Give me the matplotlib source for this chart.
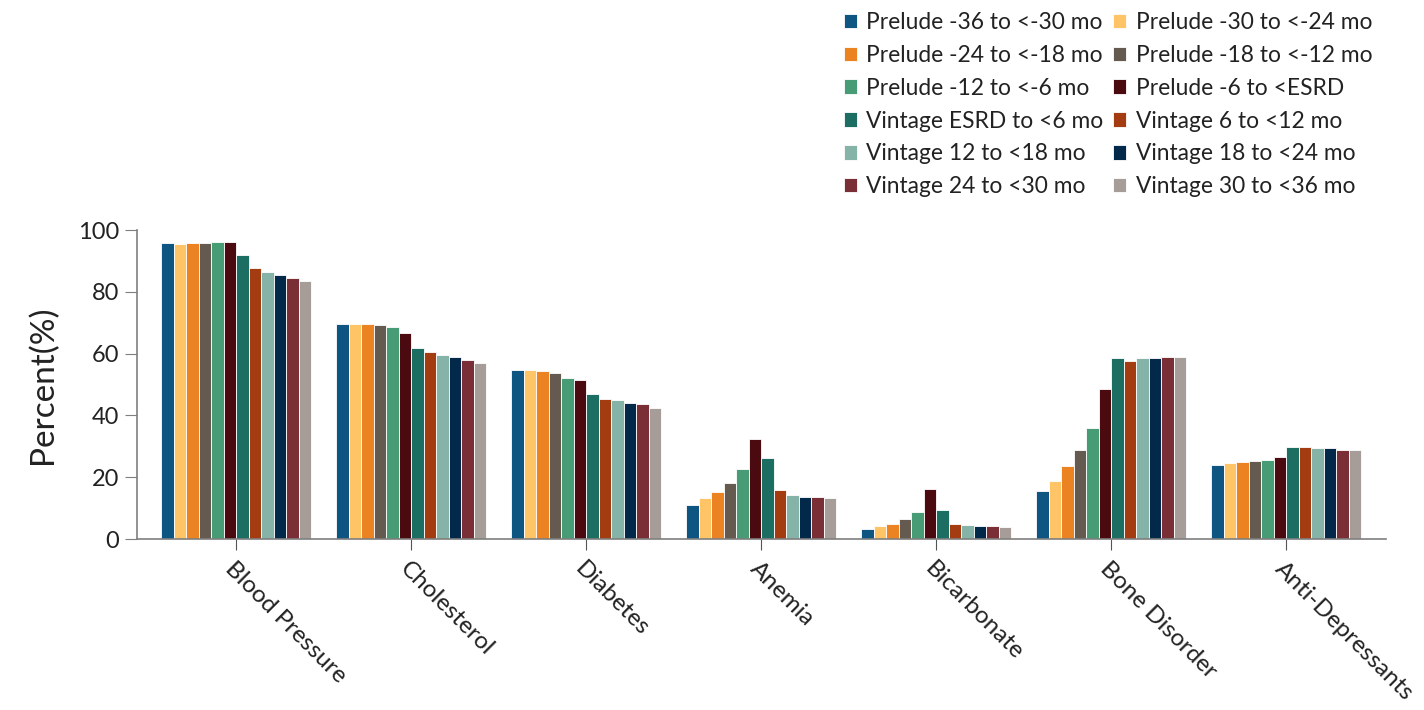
import matplotlib.pyplot as plt
import numpy as np

plt.rcParams['font.family'] = ['Lato', 'DejaVu Sans']

categories = ['Blood Pressure', 'Cholesterol', 'Diabetes', 'Anemia',
              'Bicarbonate', 'Bone Disorder', 'Anti-Depressants']

series_names = ['Prelude -36 to <-30 mo', 'Prelude -30 to <-24 mo',
                'Prelude -24 to <-18 mo', 'Prelude -18 to <-12 mo',
                'Prelude -12 to <-6 mo', 'Prelude -6 to <ESRD',
                'Vintage ESRD to <6 mo', 'Vintage 6 to <12 mo',
                'Vintage 12 to <18 mo', 'Vintage 18 to <24 mo',
                'Vintage 24 to <30 mo', 'Vintage 30 to <36 mo']

colors = ['#0F5582', '#FEC466', '#EC8323', '#645A50', '#479B75', '#4A0A10',
          '#1C6E62', '#A43C12', '#86B3A8', '#02284A', '#7A2E36', '#A79D98']

# one row per category, one column per series
blood_pressure = [95.7, 95.6, 96.0, 96.0, 96.3, 96.3, 92.0, 87.8, 86.3, 85.4, 84.4, 83.6]
cholesterol = [69.5, 69.5, 69.5, 69.2, 68.5, 66.7, 61.7, 60.4, 59.5, 58.9, 57.9, 57.0]
diabetes = [54.8, 54.6, 54.3, 53.6, 52.3, 51.4, 47.0, 45.2, 44.9, 44.2, 43.7, 42.4]
anemia = [11.1, 13.3, 15.2, 18.0, 22.7, 32.4, 26.1, 15.9, 14.3, 13.6, 13.6, 13.3]
bicarbonate = [3.3, 4.3, 5.0, 6.5, 8.6, 16.2, 9.3, 5.0, 4.6, 4.3, 4.3, 4.0]
bone_disorder = [15.6, 18.9, 23.7, 28.7, 36.1, 48.6, 58.6, 57.7, 58.6, 58.6, 58.9, 58.9]
anti_depressants = [24.0, 24.5, 24.9, 25.2, 25.5, 26.4, 29.8, 29.8, 29.5, 29.5, 28.9, 28.9]

values = np.array([blood_pressure, cholesterol, diabetes, anemia,
                   bicarbonate, bone_disorder, anti_depressants])

fig = plt.figure(figsize=(14.24, 7.1), dpi=100)
ax = fig.add_axes([0.0962, 0.2408, 0.877, 0.435])

n = len(series_names)
group_w = 0.857
bw = group_w / n
x = np.arange(len(categories))

bars = []
for i in range(n):
    b = ax.bar(x - group_w / 2 + bw * (i + 0.5), values[:, i], width=bw,
               color=colors[i], edgecolor='white', linewidth=0.6,
               label=series_names[i])
    bars.append(b)

ax.set_xlim(-0.566, len(categories) - 1 + 0.57)
ax.set_ylim(0, 100)
ax.set_yticks([0, 20, 40, 60, 80, 100])
ax.set_xticks(x)
ax.set_xticklabels(categories, rotation=-45, ha='left', va='top',
                   rotation_mode='anchor', fontsize=17.5, color='#222222')
ax.tick_params(axis='y', labelsize=17, length=9, color='#7f7f7f',
               labelcolor='#222222', pad=4)
ax.tick_params(axis='x', length=8, color='#555555', pad=6)
ax.set_ylabel('Percent(%)', fontsize=24, color='#222222', labelpad=14)

for s in ['top', 'right']:
    ax.spines[s].set_visible(False)
for s in ['left', 'bottom']:
    ax.spines[s].set_color('#7f7f7f')
    ax.spines[s].set_linewidth(1.2)

# legend fills column-first: reorder so it reads row by row
order = list(range(0, n, 2)) + list(range(1, n, 2))
handles = [bars[i] for i in order]
labels = [series_names[i] for i in order]
fig.legend(handles, labels, ncol=2, loc='upper right',
           bbox_to_anchor=(0.978, 1.012), frameon=False, fontsize=16.4,
           handlelength=0.6, handleheight=0.6, handletextpad=0.4,
           columnspacing=0.4, labelspacing=0.52, labelcolor='#222222')

fig.savefig('out.png', dpi=100)
